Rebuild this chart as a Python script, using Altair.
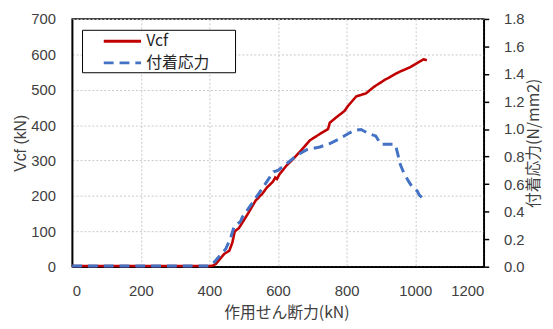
import altair as alt
import pandas as pd

# Vcf (left axis, kN)
vcf_x = [0, 400, 410, 419, 443, 458, 467, 474, 486, 510, 535, 554, 568, 585, 592, 597, 605, 626, 640, 664,
         693, 722, 746, 751, 770, 794, 804, 828, 857, 881, 910, 943, 953, 986, 1010, 1025, 1034]
vcf_y = [2, 2, 3, 8, 36, 45, 68, 100, 109, 146, 187, 206, 224, 240, 252, 248, 262, 287, 300, 325,
         357, 375, 389, 407, 422, 440, 454, 481, 490, 509, 527, 545, 550, 564, 578, 586, 583]

# 付着応力 (right axis, N/mm2)
bond_x = [0, 400, 414, 448, 462, 472, 491, 496, 530, 549, 568, 587, 600, 621, 655, 684, 722, 751, 780, 804,
          823, 842, 866, 885, 900, 920, 940, 945, 950, 957, 967, 981, 991, 1006, 1012, 1025]
bond_y = [0.005, 0.005, 0.033, 0.13, 0.21, 0.29, 0.33, 0.36, 0.48, 0.55, 0.62, 0.69, 0.70, 0.74, 0.81, 0.85,
          0.87, 0.895, 0.93, 0.966, 0.99, 0.997, 0.966, 0.95, 0.89, 0.89, 0.89, 0.86, 0.81, 0.74, 0.68, 0.62,
          0.58, 0.55, 0.52, 0.49]

series_names = ["Vcf", "付着応力"]
series_colors = ["#C00000", "#4472C4"]
series_dash = [[1, 0], [10, 6]]

x_ticks = [0, 200, 400, 600, 800, 1000, 1200]
left_ticks = [0, 100, 200, 300, 400, 500, 600, 700]
right_ticks = [0, 0.2, 0.4, 0.6, 0.8, 1, 1.2, 1.4, 1.6, 1.8]

CJK = "Noto Sans CJK JP"
LAT = "Liberation Sans"
TXT = "#404040"

df_v = pd.DataFrame({"x": vcf_x, "v": vcf_y, "series": series_names[0]})
df_b = pd.DataFrame({"x": bond_x, "v": bond_y, "series": series_names[1]})

color = alt.Color(
    "series:N",
    scale=alt.Scale(domain=series_names, range=series_colors),
    legend=alt.Legend(
        orient="none", legendX=10, legendY=11, title=None,
        strokeColor="black", fillColor="white", padding=1,
        symbolType="M-1.1,0H3.1", symbolSize=324, symbolStrokeWidth=3,
        symbolOffset=20.4, labelOffset=22.6, rowPadding=3,
        labelFont=CJK, labelFontSize=16, labelColor="#262626",
        labelExpr="datum.label == 'Vcf' ? datum.label : datum.label + '\u2800\u2800'",
    ),
)
dash = alt.StrokeDash(
    "series:N",
    scale=alt.Scale(domain=series_names, range=series_dash),
    legend=None,
)

x_enc = alt.X(
    "x:Q",
    scale=alt.Scale(domain=[0, 1200], nice=False),
    axis=alt.Axis(
        values=x_ticks, format="d", title="作用せん断力(kN)", ticks=False, labelPadding=17,
        titlePadding=6, titleX=217, titleFont=CJK, grid=True,
    ),
)

red = alt.Chart(df_v).mark_line(strokeWidth=2.6).encode(
    x=x_enc,
    y=alt.Y(
        "v:Q",
        scale=alt.Scale(domain=[0, 700], nice=False),
        axis=alt.Axis(
            values=left_ticks, title="Vcf (kN)", orient="left", ticks=False,
            labelPadding=17, titlePadding=2, titleFont=LAT, grid=True,
        ),
    ),
    color=color,
    strokeDash=dash,
)

blue = alt.Chart(df_b).mark_line(strokeWidth=3).encode(
    x=x_enc,
    y=alt.Y(
        "v:Q",
        scale=alt.Scale(domain=[0, 1.8], nice=False),
        axis=alt.Axis(
            values=right_ticks, title="付着応力(N/mm2)", orient="right", ticks=True,
            tickSize=5, tickColor="black", tickWidth=1.5, labelPadding=15,
            titlePadding=2, titleAngle=270, titleBaseline="top", titleFont=CJK, grid=False,
        ),
    ),
    color=color,
    strokeDash=dash,
)

chart = (
    alt.layer(red, blue)
    .resolve_scale(y="independent")
    .properties(
        width=417, height=251,
        autosize=alt.AutoSizeParams(type="none"),
        padding={"left": 65, "top": 9, "right": 62, "bottom": 60},
    )
    .configure_view(stroke="black", strokeWidth=1.5)
    .configure_legend(strokeColor="black", fillColor="white")
    .configure_axis(
        labelFont=LAT, labelFontSize=15, labelColor=TXT,
        titleFontSize=16, titleColor=TXT, titleFontWeight="normal",
        domainColor="black", domainWidth=1.5,
        gridColor="#c8c8c8", gridDash=[2, 2], gridWidth=1,
    )
)

chart.save("out.html", embed_options={"renderer": "svg", "actions": False})
